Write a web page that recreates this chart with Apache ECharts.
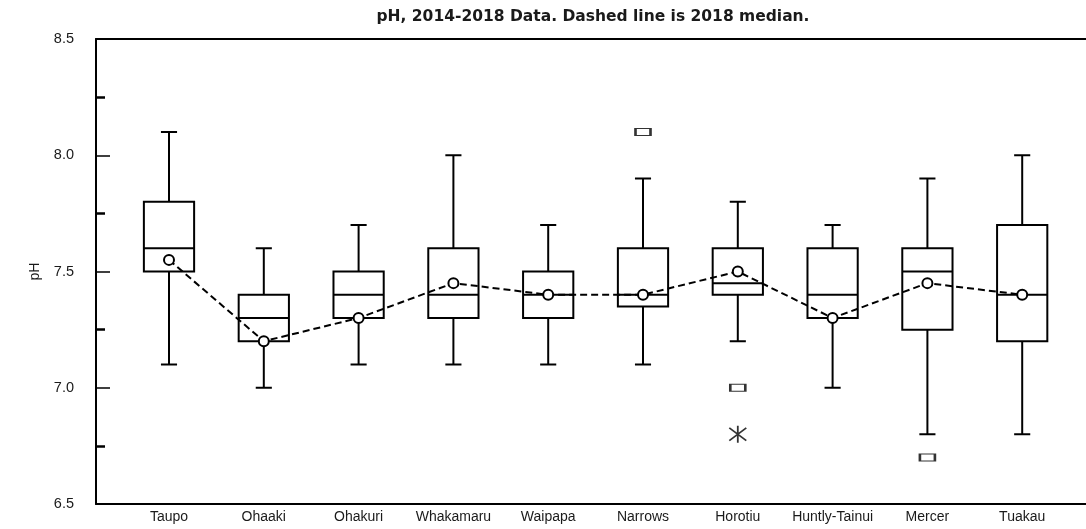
<!DOCTYPE html>
<html>
<head>
<meta charset="utf-8">
<script src="https://cdn.jsdelivr.net/npm/echarts@6/dist/echarts.min.js"></script>
<style>
  html, body { margin: 0; padding: 0; background: #fff; }
  #chart { width: 1086px; height: 529px; }
</style>
</head>
<body>
<div id="chart"></div>
<script>
// Sites along the river, upstream to downstream
const categories = ['Taupo', 'Ohaaki', 'Ohakuri', 'Whakamaru', 'Waipapa', 'Narrows', 'Horotiu', 'Huntly-Tainui', 'Mercer', 'Tuakau'];

// Box statistics of pH, 2014-2018
const whiskerLow  = [7.1, 7.0, 7.1, 7.1, 7.1, 7.1, 7.2, 7.0, 6.8, 6.8];
const quartile1   = [7.5, 7.2, 7.3, 7.3, 7.3, 7.35, 7.4, 7.3, 7.25, 7.2];
const medians     = [7.6, 7.3, 7.4, 7.4, 7.4, 7.4, 7.45, 7.4, 7.5, 7.4];
const quartile3   = [7.8, 7.4, 7.5, 7.6, 7.5, 7.6, 7.6, 7.6, 7.6, 7.7];
const whiskerHigh = [8.1, 7.6, 7.7, 8.0, 7.7, 7.9, 7.8, 7.7, 7.9, 8.0];

// 2018 median per site (dashed line)
const median2018 = [7.55, 7.2, 7.3, 7.45, 7.4, 7.4, 7.5, 7.3, 7.45, 7.4];

// Outliers and extreme values
const outliers = [['Narrows', 8.1], ['Horotiu', 7.0], ['Mercer', 6.7]];
const extremes = [['Horotiu', 6.8]];

// Value axis ticks
const yMin = 6.5, yMax = 8.5, yStep = 0.5;

const boxRows = categories.map((c, i) => [i, whiskerLow[i], quartile1[i], medians[i], quartile3[i], whiskerHigh[i]]);

const ink = '#000';
const textColor = '#1a1a1a';
const fontFamily = '"Liberation Sans", Arial, sans-serif';

const chart = echarts.init(document.getElementById('chart'), null, { renderer: 'canvas' });

const option = {
  backgroundColor: '#fff',
  animation: false,
  title: {
    text: 'pH, 2014-2018 Data. Dashed line is 2018 median.',
    left: 588,
    textAlign: 'center',
    top: 4,
    textStyle: { fontFamily: '"DejaVu Sans", sans-serif', fontWeight: 'bold', fontSize: 15.5, color: textColor }
  },
  grid: [
    // frame with the pH axis
    { left: 96, right: 0, top: 39, bottom: 25, containLabel: false },
    // category band for the boxes
    { left: 121.6, right: 16.4, top: 39, bottom: 25, containLabel: false }
  ],
  xAxis: [
    {
      type: 'value', gridIndex: 0, min: 0, max: 1, position: 'bottom',
      axisLine: { show: true, onZero: false, lineStyle: { color: ink, width: 2 } },
      axisTick: { show: false }, axisLabel: { show: false }, splitLine: { show: false }
    },
    {
      type: 'value', gridIndex: 0, min: 0, max: 1, position: 'top',
      axisLine: { show: true, onZero: false, lineStyle: { color: ink, width: 2 } },
      axisTick: { show: false }, axisLabel: { show: false }, splitLine: { show: false }
    },
    {
      type: 'category', gridIndex: 1, data: categories, boundaryGap: true,
      axisLine: { show: false }, axisTick: { show: false }, splitLine: { show: false },
      axisLabel: { color: textColor, fontSize: 14, fontFamily: fontFamily, margin: 6, interval: 0 }
    }
  ],
  yAxis: [
    {
      type: 'value', gridIndex: 0, min: yMin, max: yMax, interval: yStep,
      name: 'pH', nameLocation: 'middle', nameGap: 54, nameRotate: 90,
      nameTextStyle: { color: textColor, fontSize: 14, fontFamily: fontFamily },
      axisLine: { show: true, onZero: false, lineStyle: { color: ink, width: 2 } },
      axisTick: { show: true, inside: true, length: 14, lineStyle: { color: ink, width: 1.5 } },
      minorTick: { show: true, splitNumber: 2, length: 9, lineStyle: { color: ink, width: 2.5 } },
      axisLabel: {
        color: textColor, fontSize: 14.5, fontFamily: fontFamily, margin: 22,
        formatter: v => v.toFixed(1)
      },
      splitLine: { show: false }, minorSplitLine: { show: false }
    },
    {
      type: 'value', gridIndex: 1, min: yMin, max: yMax, show: false,
      splitLine: { show: false }
    }
  ],
  series: [
    {
      name: 'pH 2014-2018',
      type: 'custom',
      xAxisIndex: 2, yAxisIndex: 1,
      z: 2,
      encode: { x: 0, y: [1, 2, 3, 4, 5] },
      data: boxRows,
      renderItem: function (params, api) {
        const i = api.value(0);
        const lo = api.coord([i, api.value(1)]);
        const b1 = api.coord([i, api.value(2)]);
        const md = api.coord([i, api.value(3)]);
        const b3 = api.coord([i, api.value(4)]);
        const hi = api.coord([i, api.value(5)]);
        const band = api.size([1, 0])[0];
        const halfBox = band * 0.265;
        const halfCap = band * 0.085;
        const cx = lo[0];
        const st = { stroke: ink, lineWidth: 2, fill: null };
        return {
          type: 'group',
          children: [
            { type: 'line', shape: { x1: cx, y1: hi[1], x2: cx, y2: b3[1] }, style: st },
            { type: 'line', shape: { x1: cx, y1: b1[1], x2: cx, y2: lo[1] }, style: st },
            { type: 'line', shape: { x1: cx - halfCap, y1: hi[1], x2: cx + halfCap, y2: hi[1] }, style: st },
            { type: 'line', shape: { x1: cx - halfCap, y1: lo[1], x2: cx + halfCap, y2: lo[1] }, style: st },
            { type: 'rect', shape: { x: cx - halfBox, y: b3[1], width: halfBox * 2, height: b1[1] - b3[1] },
              style: { stroke: ink, lineWidth: 2, fill: '#fff' } },
            { type: 'line', shape: { x1: cx - halfBox, y1: md[1], x2: cx + halfBox, y2: md[1] }, style: st }
          ]
        };
      }
    },
    {
      name: 'Outliers',
      type: 'scatter',
      xAxisIndex: 2, yAxisIndex: 1,
      z: 4,
      symbol: 'rect',
      symbolSize: [15, 7],
      itemStyle: { color: '#fff', borderColor: ink, borderWidth: 1.8 },
      data: outliers
    },
    {
      name: 'Extremes',
      type: 'scatter',
      xAxisIndex: 2, yAxisIndex: 1,
      z: 4,
      symbol: 'path://M8,0L8,16M2,2L14,14M2,14L14,2',
      symbolSize: [17, 17],
      itemStyle: { color: 'none', borderColor: ink, borderWidth: 1.8 },
      data: extremes
    },
    {
      name: '2018 median',
      type: 'line',
      xAxisIndex: 2, yAxisIndex: 1,
      z: 5,
      data: median2018,
      symbol: 'circle',
      symbolSize: 10,
      showAllSymbol: true,
      lineStyle: { color: ink, width: 2, type: [7, 4] },
      itemStyle: { color: '#fff', borderColor: ink, borderWidth: 2 }
    }
  ]
};

chart.setOption(option);
</script>
</body>
</html>
